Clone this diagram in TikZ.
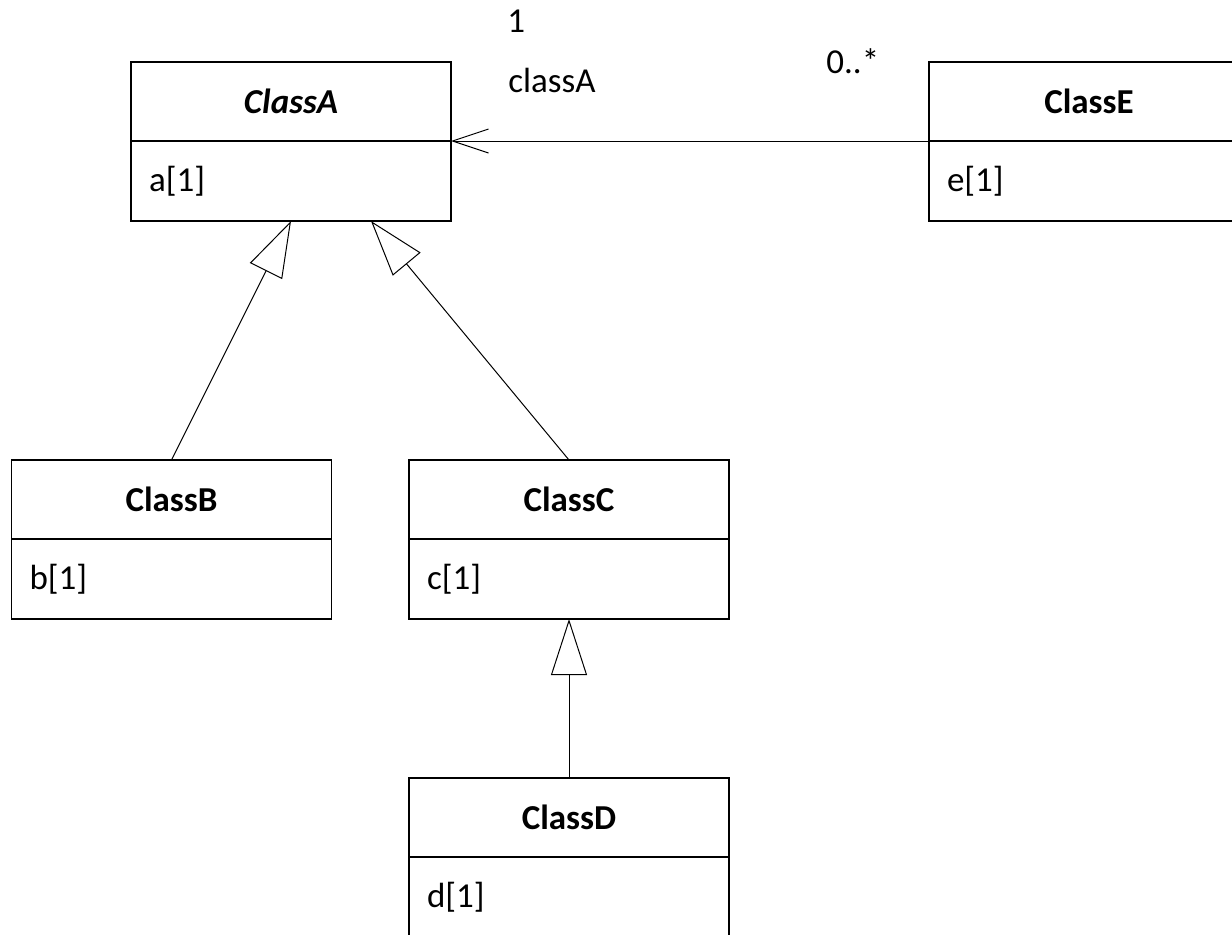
\documentclass[tikz,border=0pt]{standalone}
\usepackage{fontspec}
\setmainfont{Carlito}
\usetikzlibrary{positioning,arrows.meta,calc}
\newcommand{\umlsize}{\fontsize{17.5}{21}\selectfont}
\tikzset{
  classname/.style={draw,line width=0.7pt,minimum width=160pt,minimum height=39.5pt,
    inner sep=0pt,outer sep=0pt,font=\umlsize\bfseries},
  classattr/.style={draw,line width=0.7pt,minimum width=160pt,minimum height=40pt,
    text width=142pt,align=left,inner xsep=9pt,inner ysep=0pt,outer sep=0pt,font=\umlsize},
  inherit/.style={-{Triangle[open,length=28pt,width=18pt]},line width=0.5pt},
  assoc/.style={-{Straight Barb[length=18pt,width=12pt]},line width=0.5pt},
  mult/.style={inner sep=0pt,anchor=base west,font=\umlsize}
}
\begin{document}
\begin{tikzpicture}[x=0.5pt,y=-0.5pt]
	\useasboundingbox (0,0) rectangle (1232,934);
	% classes
	\node[classname] (classA) at (291,101.5) {\itshape ClassA};
	\node[classattr,below=0pt of classA] (classAattr) {a[1]};
	\node[classname] (classE) at (1089,101.5) {ClassE};
	\node[classattr,below=0pt of classE] (classEattr) {e[1]};
	\node[classname] (classB) at (171.5,499.5) {ClassB};
	\node[classattr,below=0pt of classB] (classBattr) {b[1]};
	\node[classname] (classC) at (569,499.5) {ClassC};
	\node[classattr,below=0pt of classC] (classCattr) {c[1]};
	\node[classname] (classD) at (569,817.5) {ClassD};
	\node[classattr,below=0pt of classD] (classDattr) {d[1]};
	% generalizations
	\draw[inherit] (classB.north) -- (classAattr.south);
	\draw[inherit] (classC.north) -- ($(classAattr.south)!0.5!(classAattr.south east)$);
	\draw[inherit] (classD.north) -- (classCattr.south);
	% association
	\draw[assoc] (classE.south west) -- (classA.south east);
	\node[mult] (multA) at (507,32) {1};
	\node[mult] (roleA) at (508,92) {classA};
	\node[mult] (multE) at (826,73) {0..*};
\end{tikzpicture}
\end{document}
